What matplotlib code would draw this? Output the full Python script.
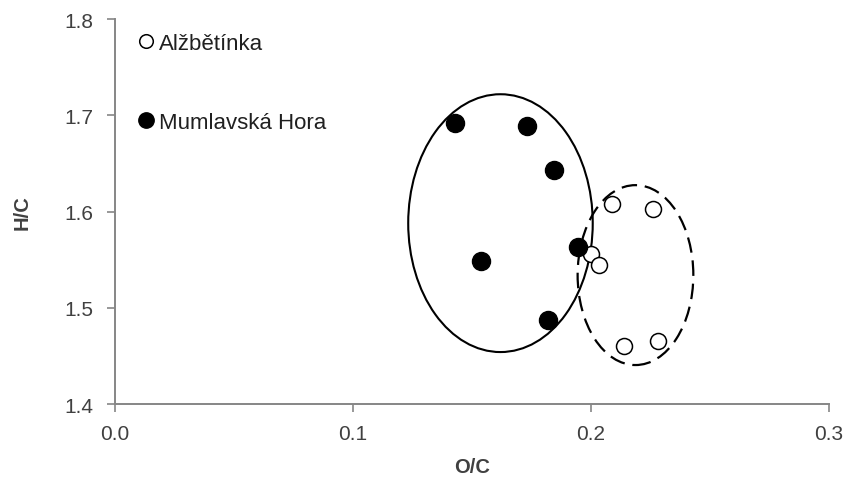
import matplotlib.pyplot as plt
from matplotlib.patches import Ellipse

plt.rcParams['font.family'] = ['Liberation Sans', 'DejaVu Sans']

# Alžbětínka (open circles)
alz_oc = [0.209, 0.226, 0.200, 0.2035, 0.214, 0.228]
alz_hc = [1.608, 1.603, 1.556, 1.545, 1.460, 1.465]

# Mumlavská Hora (filled circles)
mum_oc = [0.143, 0.173, 0.1845, 0.154, 0.1945, 0.182]
mum_hc = [1.692, 1.689, 1.643, 1.549, 1.563, 1.487]

# group ellipses: centre x, centre y, width, height
ell_mum = [0.162, 1.588, 0.0775, 0.268]
ell_alz = [0.2187, 1.534, 0.0486, 0.187]

fig = plt.figure(figsize=(8.47, 4.81), dpi=100)
ax = fig.add_axes([0.1355, 0.158, 0.8433, 0.800])

ax.add_patch(Ellipse((ell_mum[0], ell_mum[1]), ell_mum[2], ell_mum[3],
                     fill=False, ec='black', lw=1.5))
ax.add_patch(Ellipse((ell_alz[0], ell_alz[1]), ell_alz[2], ell_alz[3],
                     fill=False, ec='black', lw=1.6, ls=(0, (7, 3.5))))

ax.plot(alz_oc, alz_hc, 'o', ms=11.5, mfc='white', mec='black', mew=1.1,
        label='Alžbětínka', zorder=3)
ax.plot(mum_oc, mum_hc, 'o', ms=13, mfc='black', mec='black',
        label='Mumlavská Hora', zorder=3)

ax.set_xlim(0, 0.3)
ax.set_ylim(1.4, 1.8)
ax.set_xticks([0.0, 0.1, 0.2, 0.3])
ax.set_yticks([1.4, 1.5, 1.6, 1.7, 1.8])
ax.set_xticklabels(['0.0', '0.1', '0.2', '0.3'])
ax.set_yticklabels(['1.4', '1.5', '1.6', '1.7', '1.8'])

for s in ['top', 'right']:
    ax.spines[s].set_visible(False)
for s in ['left', 'bottom']:
    ax.spines[s].set_color('#868686')
    ax.spines[s].set_linewidth(1.4)
ax.tick_params(colors='#868686', labelcolor='#404040', labelsize=15,
               length=5.5, width=1.2, direction='out')
ax.tick_params(axis='x', pad=9)
ax.tick_params(axis='y', pad=10)

ax.set_xlabel('O/C', fontsize=14.5, fontweight='bold', color='#404040')
ax.set_ylabel('H/C', fontsize=14.5, fontweight='bold', color='#404040')
ax.xaxis.set_label_coords(0.5, -0.138)
ax.yaxis.set_label_coords(-0.116, 0.5)

ax.legend(loc='upper left', bbox_to_anchor=(0.035, 0.964), frameon=False,
          fontsize=16, handlelength=0.6, handletextpad=0.25, labelspacing=2.6,
          borderpad=0, borderaxespad=0, labelcolor='#202020', markerscale=0.85)

fig.savefig('out.png', dpi=100, facecolor='white')
